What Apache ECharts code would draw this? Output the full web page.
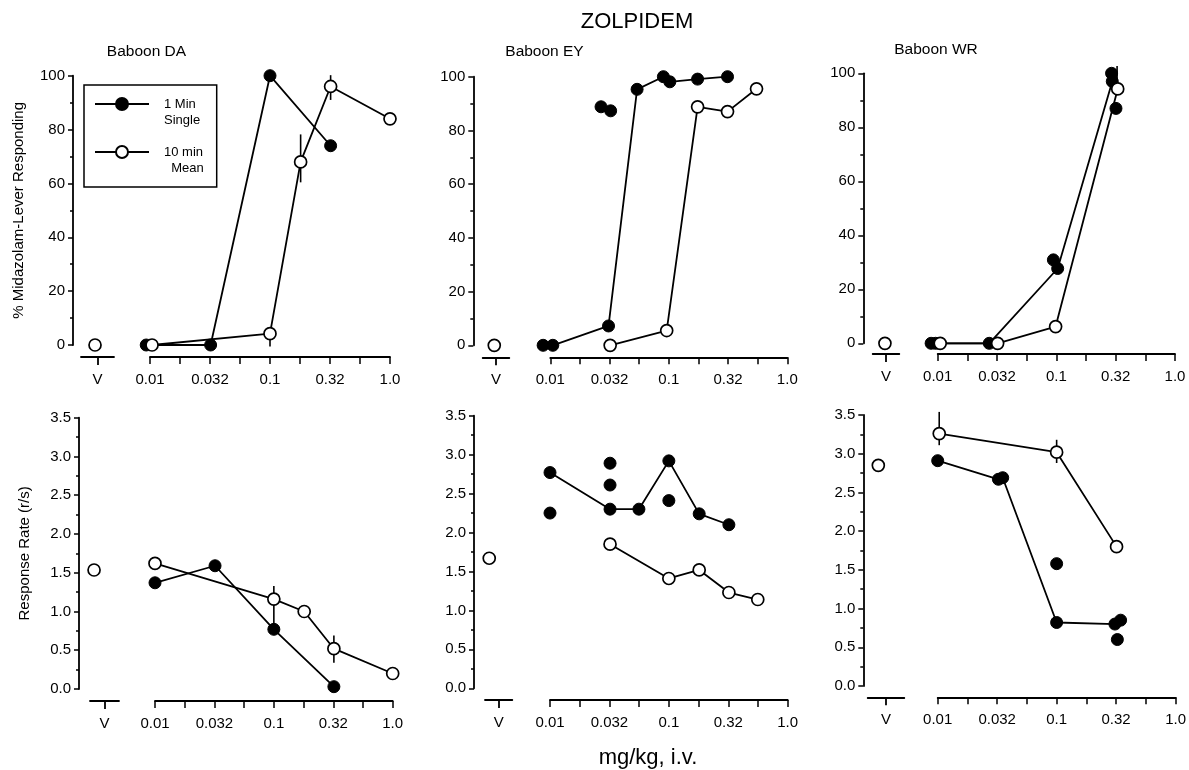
<!DOCTYPE html>
<html><head><meta charset="utf-8">
<script src="https://cdn.jsdelivr.net/npm/echarts@6/dist/echarts.min.js"></script>
<style>html,body{margin:0;padding:0;background:#fff}#c{width:1189px;height:770px}</style>
</head><body><div id="c"></div>
<script>
// ---------- DATA (dose in mg/kg, value) ----------
const doseTicks = [0.01, 0.032, 0.1, 0.32, 1.0];
const doseTickLabels = ['0.01', '0.032', '0.1', '0.32', '1.0'];
const vehicleLabel = 'V';
const panelTitles = ['Baboon DA', 'Baboon EY', 'Baboon WR'];
const seriesNames = ['1 Min\nSingle', '10 min\n  Mean'];

// Top row: % Midazolam-lever responding
const daPctSingle = [[0.0093, 0], [0.032, 0], [0.1, 100], [0.32, 74]];
const daPctSingleExtra = [];
const daPctMean = [[0.0104, 0], [0.1, 4.2], [0.18, 68], [0.32, 96], [1.0, 84]];
const daPctMeanErr = [[0.1, -0.6, 4.2], [0.18, 60.4, 78.2], [0.32, 91, 100.2]];
const daPctVehicle = [[-0.15, 0]];

const eyPctSingle = [[0.0087, 0], [0.0105, 0], [0.031, 7.2], [0.054, 95.3], [0.09, 100], [0.102, 98.1], [0.175, 99.1], [0.313, 100]];
const eyPctSingleExtra = [[0.0268, 88.8], [0.0323, 87.3]];
const eyPctMean = [[0.032, 0], [0.096, 5.5], [0.175, 88.8], [0.313, 87], [0.55, 95.5]];
const eyPctMeanErr = [];
const eyPctVehicle = [[-0.13, 0]];

const wrPctSingle = [[0.0088, 0], [0.0096, 0], [0.0272, 0], [0.1026, 27.7], [0.296, 97]];
const wrPctSingleExtra = [[0.0944, 30.9], [0.292, 100], [0.318, 87]];
const wrPctMean = [[0.0105, 0], [0.032, 0], [0.0986, 6.2], [0.329, 94.2]];
const wrPctMeanErr = [[0.325, 94.2, 102.7]];
const wrPctVehicle = [[-0.08, 0]];

// Bottom row: response rate (r/s)
const daRateSingle = [[0.01, 1.37], [0.032, 1.59], [0.1, 0.77], [0.32, 0.03]];
const daRateSingleExtra = [];
const daRateMean = [[0.01, 1.62], [0.1, 1.16], [0.18, 1.0], [0.32, 0.52], [1.0, 0.2]];
const daRateMeanErr = [[0.1, 0.78, 1.33], [0.32, 0.34, 0.69]];
const daRateVehicle = [[-0.72, 1.535]];

const eyRateSingle = [[0.01, 2.77], [0.032, 2.30], [0.056, 2.30], [0.1, 2.92], [0.18, 2.24], [0.32, 2.10]];
const eyRateSingleExtra = [[0.01, 2.25], [0.032, 2.89], [0.032, 2.61], [0.1, 2.41]];
const eyRateMean = [[0.032, 1.85], [0.1, 1.41], [0.18, 1.52], [0.32, 1.23], [0.56, 1.14]];
const eyRateMeanErr = [];
const eyRateVehicle = [[-0.69, 1.67]];

const wrRateSingle = [[0.01, 2.91], [0.0324, 2.67], [0.0352, 2.69], [0.1, 0.82], [0.309, 0.80], [0.345, 0.85]];
const wrRateSingleExtra = [[0.1, 1.58], [0.324, 0.60]];
const wrRateMean = [[0.0103, 3.26], [0.1, 3.02], [0.319, 1.80]];
const wrRateMeanErr = [[0.0103, 3.11, 3.54], [0.1, 2.88, 3.18]];
const wrRateVehicle = [[-0.42, 2.85]];

// ---------- LAYOUT ----------
const FONT = "'Liberation Sans', Arial, Helvetica, sans-serif";
const panels = [
  { kind: 'pct', single: daPctSingle, extra: daPctSingleExtra, mean: daPctMean, err: daPctMeanErr, veh: daPctVehicle, yName: '% Midazolam-Lever Responding' },
  { kind: 'pct', single: eyPctSingle, extra: eyPctSingleExtra, mean: eyPctMean, err: eyPctMeanErr, veh: eyPctVehicle },
  { kind: 'pct', single: wrPctSingle, extra: wrPctSingleExtra, mean: wrPctMean, err: wrPctMeanErr, veh: wrPctVehicle },
  { kind: 'rate', single: daRateSingle, extra: daRateSingleExtra, mean: daRateMean, err: daRateMeanErr, veh: daRateVehicle, yName: 'Response Rate (r/s)' },
  { kind: 'rate', single: eyRateSingle, extra: eyRateSingleExtra, mean: eyRateMean, err: eyRateMeanErr, veh: eyRateVehicle },
  { kind: 'rate', single: wrRateSingle, extra: wrRateSingleExtra, mean: wrRateMean, err: wrRateMeanErr, veh: wrRateVehicle }
];
const layout = [
  { main: [150, 75.7, 240, 269.3], v: [81, 33], yOff: 77, xOff: 12 },
  { main: [550.3, 76.7, 237, 268.6], v: [482.7, 26.6], yOff: 77, xOff: 12 },
  { main: [937.7, 73.3, 237.3, 270], v: [872.7, 26.6], yOff: 74.4, xOff: 10.7 },
  { main: [155, 417.7, 237.7, 271.3], v: [90, 29], yOff: 76, xOff: 12 },
  { main: [550, 415.7, 237.7, 272.6], v: [485, 27.3], yOff: 76, xOff: 11.7 },
  { main: [937.7, 415, 238, 271], v: [867.7, 36.6], yOff: 74.4, xOff: 11.3 }
];

function fmtDose(v) {
  for (let k = 0; k < doseTicks.length; k++) {
    if (Math.abs(Math.log10(doseTicks[k]) - v) < 0.02) return doseTickLabels[k];
  }
  return '';
}
const toXY = arr => arr.map(d => [Math.log10(d[0]), d[1]]);
const axisLineStyle = () => ({ color: '#000', width: 1.8 });
const tickStyle = () => ({ color: '#000', width: 1.5 });
const labelStyle = () => ({ color: '#000', fontSize: 15, fontFamily: FONT });
const filledStyle = { color: '#000', borderColor: '#000', borderWidth: 1, opacity: 1 };
const openStyle = { color: '#fff', borderColor: '#000', borderWidth: 1.7, opacity: 1 };
const lineStyle = { color: '#000', width: 1.8 };

const grid = [], xAxis = [], yAxis = [], series = [];
panels.forEach((p, i) => {
  const L = layout[i];
  const isPct = p.kind === 'pct';
  const yMax = isPct ? 100 : 3.5, yInt = isPct ? 20 : 0.5;
  grid.push({ left: L.main[0], top: L.main[1], width: L.main[2], height: L.main[3] });
  grid.push({ left: L.v[0], top: L.main[1], width: L.v[1], height: L.main[3] });
  xAxis.push({
    type: 'value', gridIndex: 2 * i, min: -2, max: 0, interval: 0.25, position: 'bottom', offset: L.xOff,
    axisLine: { onZero: false, lineStyle: axisLineStyle() },
    axisTick: { length: 7, lineStyle: tickStyle() },
    axisLabel: Object.assign({ formatter: fmtDose, margin: 15, showMinLabel: true, showMaxLabel: true }, labelStyle()),
    splitLine: { show: false }
  });
  xAxis.push({
    type: 'value', gridIndex: 2 * i + 1, min: -1, max: 1, position: 'bottom', offset: L.xOff,
    axisLine: { onZero: false, lineStyle: axisLineStyle() },
    axisTick: { show: true, customValues: [0], length: 8, lineStyle: { color: '#000', width: 1.8 } },
    axisLabel: Object.assign({ customValues: [0], margin: 15,
      formatter: v => (Math.abs(v) < 1e-6 ? vehicleLabel : '') }, labelStyle()),
    splitLine: { show: false }
  });
  yAxis.push({
    type: 'value', gridIndex: 2 * i, min: 0, max: yMax, interval: yInt, position: 'left', offset: L.yOff,
    axisLine: { show: true, onZero: false, lineStyle: axisLineStyle() },
    axisTick: { show: true, length: 5, lineStyle: tickStyle() },
    minorTick: { show: true, splitNumber: 2, length: 3, lineStyle: tickStyle() },
    axisLabel: Object.assign({ margin: 8, formatter: isPct ? (v => String(v)) : (v => v.toFixed(1)) }, labelStyle()),
    splitLine: { show: false },
    name: p.yName || '', nameLocation: 'middle', nameGap: 47, nameRotate: 90,
    nameTextStyle: { color: '#000', fontSize: 15, fontFamily: FONT }
  });
  yAxis.push({ type: 'value', gridIndex: 2 * i + 1, min: 0, max: yMax, show: false });

  series.push({
    type: 'custom', xAxisIndex: 2 * i, yAxisIndex: 2 * i, z: 1, silent: true,
    data: p.err.map(d => [Math.log10(d[0]), d[1], d[2]]),
    encode: { x: 0, y: [1, 2] },
    renderItem: (params, api) => {
      const a = api.coord([api.value(0), api.value(1)]);
      const b = api.coord([api.value(0), api.value(2)]);
      return { type: 'line', shape: { x1: a[0], y1: a[1], x2: b[0], y2: b[1] }, style: { stroke: '#000', lineWidth: 1.6 } };
    }
  });
  series.push({
    type: 'line', name: seriesNames[0], xAxisIndex: 2 * i, yAxisIndex: 2 * i, data: toXY(p.single),
    symbol: 'circle', symbolSize: 12, itemStyle: filledStyle, lineStyle: lineStyle, z: 3, clip: false, silent: true
  });
  series.push({
    type: 'scatter', name: 'extra', xAxisIndex: 2 * i, yAxisIndex: 2 * i, data: toXY(p.extra),
    symbol: 'circle', symbolSize: 12, itemStyle: filledStyle, z: 3, clip: false, silent: true
  });
  series.push({
    type: 'line', name: seriesNames[1], xAxisIndex: 2 * i, yAxisIndex: 2 * i, data: toXY(p.mean),
    symbol: 'circle', symbolSize: 12, itemStyle: openStyle, lineStyle: lineStyle, z: 4, clip: false, silent: true
  });
  series.push({
    type: 'scatter', name: 'vehicle', xAxisIndex: 2 * i + 1, yAxisIndex: 2 * i + 1, data: p.veh,
    symbol: 'circle', symbolSize: 12, itemStyle: openStyle, z: 4, clip: false, silent: true
  });
});

const textEl = (text, x, y, size) => ({
  type: 'text', x: x, y: y, silent: true,
  style: { text: text, fill: '#000', font: size + 'px ' + FONT, textAlign: 'center', textVerticalAlign: 'middle' }
});

const option = {
  animation: false,
  backgroundColor: '#fff',
  grid, xAxis, yAxis, series,
  legend: {
    data: seriesNames, orient: 'vertical', left: 94, top: 80, selectedMode: false,
    itemWidth: 54, itemHeight: 15, itemGap: 0, padding: 0,
    formatter: name => '\n' + name,
    textStyle: { color: '#000', fontSize: 13, fontFamily: FONT, lineHeight: 16, padding: [0, 0, 0, 10] }
  },
  graphic: [
    { type: 'rect', silent: true, shape: { x: 84, y: 85, width: 132.7, height: 102 },
      style: { fill: 'none', stroke: '#000', lineWidth: 1.5 } },
    textEl('ZOLPIDEM', 637, 22, 22),
    textEl(panelTitles[0], 146.5, 52, 15.5),
    textEl(panelTitles[1], 544.5, 52, 15.5),
    textEl(panelTitles[2], 936, 50, 15.5),
    textEl('mg/kg, i.v.', 648, 758, 22)
  ]
};
const chart = echarts.init(document.getElementById('c'), null, { renderer: 'canvas' });
chart.setOption(option);
</script></body></html>
